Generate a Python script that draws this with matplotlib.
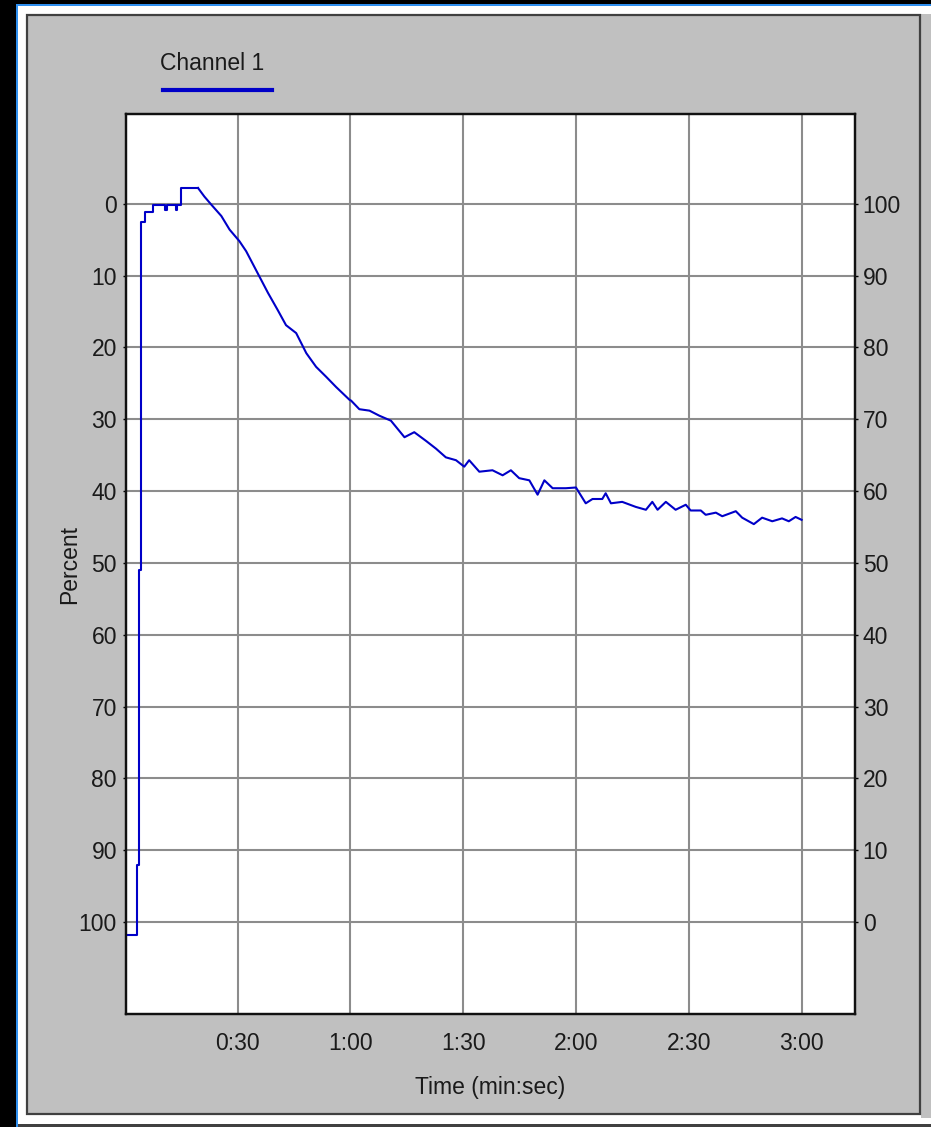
import matplotlib
matplotlib.use("Agg")
import matplotlib.pyplot as plt
from matplotlib.patches import Rectangle
from matplotlib.lines import Line2D
from matplotlib.ticker import FuncFormatter

plt.rcParams['font.family'] = ['Liberation Sans', 'DejaVu Sans']

# start-up part of the trace, held level between readings (seconds, percent)
start_time = [0.0, 3.3, 3.9, 4.45, 5.3, 7.5, 10.8, 11.2, 13.6, 14.0, 15.1, 19.5]
start_pct = [101.8, 92.0, 51.0, 2.6, 1.2, 0.1, 0.8, 0.1, 0.8, 0.1, -2.2, -2.2]

# decay part of the trace (seconds, percent)
time_s = [19.5, 21.2, 23.0, 25.7, 27.9, 30.5, 32.3, 35.4, 38.1, 40.7, 42.9, 45.6,
          48.3, 50.9, 53.6, 56.2, 59.8, 60.2, 62.4, 65.1, 67.7, 70.8, 74.4,
          77.0, 80.1, 82.8, 85.4, 88.1, 90.3, 91.6, 94.3, 97.8, 100.5, 102.7,
          104.9, 107.6, 109.8, 111.6, 113.8, 117.3, 120.0, 122.6, 124.4, 127.0,
          127.9, 129.3, 132.3, 135.9, 138.6, 140.3, 141.7, 143.9, 146.5, 149.2,
          150.5, 153.2, 154.5, 157.2, 158.9, 162.5, 164.2, 167.3, 169.5, 172.2,
          174.8, 176.6, 178.4, 180.0]
percent = [-2.2, -1.0, 0.1, 1.7, 3.6, 5.2, 6.6, 9.7, 12.4, 14.8, 16.9, 18.0,
           20.8, 22.7, 24.1, 25.5, 27.3, 27.4, 28.6, 28.8, 29.5, 30.2, 32.5,
           31.8, 33.0, 34.1, 35.3, 35.7, 36.6, 35.7, 37.3, 37.1, 37.8, 37.1,
           38.2, 38.5, 40.5, 38.5, 39.6, 39.6, 39.5, 41.7, 41.1, 41.1,
           40.3, 41.7, 41.5, 42.2, 42.6, 41.5, 42.6, 41.5, 42.6, 41.9,
           42.7, 42.7, 43.3, 43.0, 43.5, 42.8, 43.7, 44.6, 43.7, 44.2,
           43.8, 44.2, 43.6, 44.0]

x_ticks = [30, 60, 90, 120, 150, 180]
y_ticks = [0, 10, 20, 30, 40, 50, 60, 70, 80, 90, 100]

W, H = 931, 1127
fig = plt.figure(figsize=(W / 100, H / 100), dpi=100, facecolor='black')


def px_rect(x0, y0, x1, y1, **kw):
    # pixel box measured from the top-left corner
    r = Rectangle((x0 / W, 1 - y1 / H), (x1 - x0) / W, (y1 - y0) / H,
                  transform=fig.transFigure, zorder=-10, **kw)
    fig.patches.append(r)


# window frame
px_rect(16, 4, W, H, facecolor='#2f8fef', edgecolor='none')
px_rect(18, 6, W, H, facecolor='white', edgecolor='none')
px_rect(921, 14, W, 1118, facecolor='#c0c0c0', edgecolor='none')
px_rect(18, 1124, W, H, facecolor='#404040', edgecolor='none')
px_rect(27, 15, 920, 1114, facecolor='#c0c0c0', edgecolor='#404040', lw=1.6)

ax = fig.add_axes([126 / W, 1 - 1014 / H, 729 / W, 900 / H])
ax.set_facecolor('white')
trace = '#0000c8'
ax.plot(start_time, start_pct, color=trace, lw=1.5, drawstyle='steps-post', zorder=3)
ax.plot(time_s, percent, color=trace, lw=1.5, zorder=3)

ax.set_xlim(0.35, 194.2)
ax.set_ylim(112.8, -12.5)
ax.set_xticks(x_ticks)
ax.xaxis.set_major_formatter(FuncFormatter(lambda v, p: '%d:%02d' % (int(v) // 60, int(v) % 60)))
ax.set_yticks(y_ticks)
ax.grid(True, color='#8c8c8c', lw=1.5)
ax.set_axisbelow(True)

for s in ax.spines.values():
    s.set_linewidth(1.6)
    s.set_color('#111111')

ax.tick_params(axis='x', length=0, pad=13, labelsize=16.5, labelcolor='#1a1a1a')
ax.tick_params(axis='y', length=2.5, width=1, pad=4, labelsize=16.5, labelcolor='#1a1a1a')

ax.set_xlabel('Time (min:sec)', fontsize=16.5, color='#1a1a1a', labelpad=15)
ax.set_ylabel('Percent', fontsize=16.5, color='#1a1a1a', labelpad=-2)

# right axis is the same scale flipped (100 - left)
ax2 = ax.twinx()
ax2.set_ylim(100 - 112.8, 100 + 12.5)
ax2.set_yticks(y_ticks)
ax2.tick_params(axis='y', length=2.5, width=1, pad=3, labelsize=16.5, labelcolor='#1a1a1a')
for s in ax2.spines.values():
    s.set_linewidth(1.6)
    s.set_color('#111111')

# legend drawn like the original: label with the line sample under it
fig.text(160 / W, 1 - 63 / H, 'Channel 1', fontsize=16.5, color='#1a1a1a',
         ha='left', va='center')
fig.add_artist(Line2D([163 / W, 272 / W], [1 - 90 / H, 1 - 90 / H],
                      color=trace, lw=3, transform=fig.transFigure))

fig.savefig('out.png', dpi=100, facecolor=fig.get_facecolor())
